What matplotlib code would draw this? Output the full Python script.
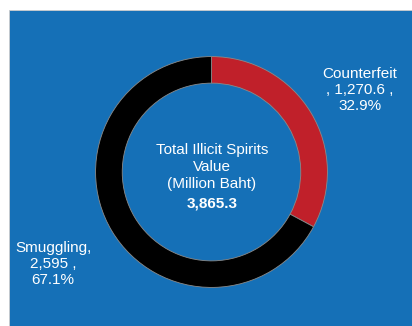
import matplotlib
matplotlib.use("Agg")
import matplotlib.pyplot as plt
from matplotlib.patches import Rectangle

categories = ["Counterfeit", "Smuggling"]
values = [1270.6, 2595]
shares = ["32.9%", "67.1%"]
total_label = "3,865.3"
colors = ["#C0202A", "#000000"]
bg = "#1570B7"

plt.rcParams['font.family'] = ["Liberation Sans", "DejaVu Sans"]

fig = plt.figure(figsize=(4.12, 3.26), dpi=100)
fig.patch.set_facecolor("white")
fig.add_artist(Rectangle((9/412, 0), 1, 1 - 10/326, transform=fig.transFigure,
                         facecolor=bg, edgecolor="#cccccc", linewidth=0.6, zorder=-10))

W, H = 412, 326
left, right, top, bottom = 95, 328, 56, 288
ax = fig.add_axes([left / W, 1 - bottom / H, (right - left) / W, (bottom - top) / H])
ax.set_zorder(5)
ax.patch.set_alpha(0)
ax.pie(values, colors=colors, startangle=90, counterclock=False,
       wedgeprops=dict(width=0.23, edgecolor="#8a8a8a", linewidth=0.6))
ax.set_xlim(-1.005, 1.005)
ax.set_ylim(-1.005, 1.005)
ax.set_aspect("auto")
ax.axis("off")

def fx(x): return x / W
def fy(y): return 1 - y / H

fs = 11
fig.text(fx(360), fy(90), f"{categories[0]}\n, {values[0]:,.1f} ,\n{shares[0]}",
         ha="center", va="center", color="white", fontsize=fs, linespacing=1.2, zorder=10)
fig.text(fx(53), fy(264), f"{categories[1]},\n{values[1]:,.0f} ,\n{shares[1]}",
         ha="center", va="center", color="white", fontsize=fs, linespacing=1.2, zorder=10)
fig.text(fx(212), fy(167), "Total Illicit Spirits\nValue\n(Million Baht)",
         ha="center", va="center", color="white", fontsize=fs, linespacing=1.3, zorder=10)
fig.text(fx(212), fy(204), total_label, ha="center", va="center",
         color="white", fontsize=fs, fontweight="bold", zorder=10)

fig.savefig("out.png", dpi=100, facecolor=fig.get_facecolor())
